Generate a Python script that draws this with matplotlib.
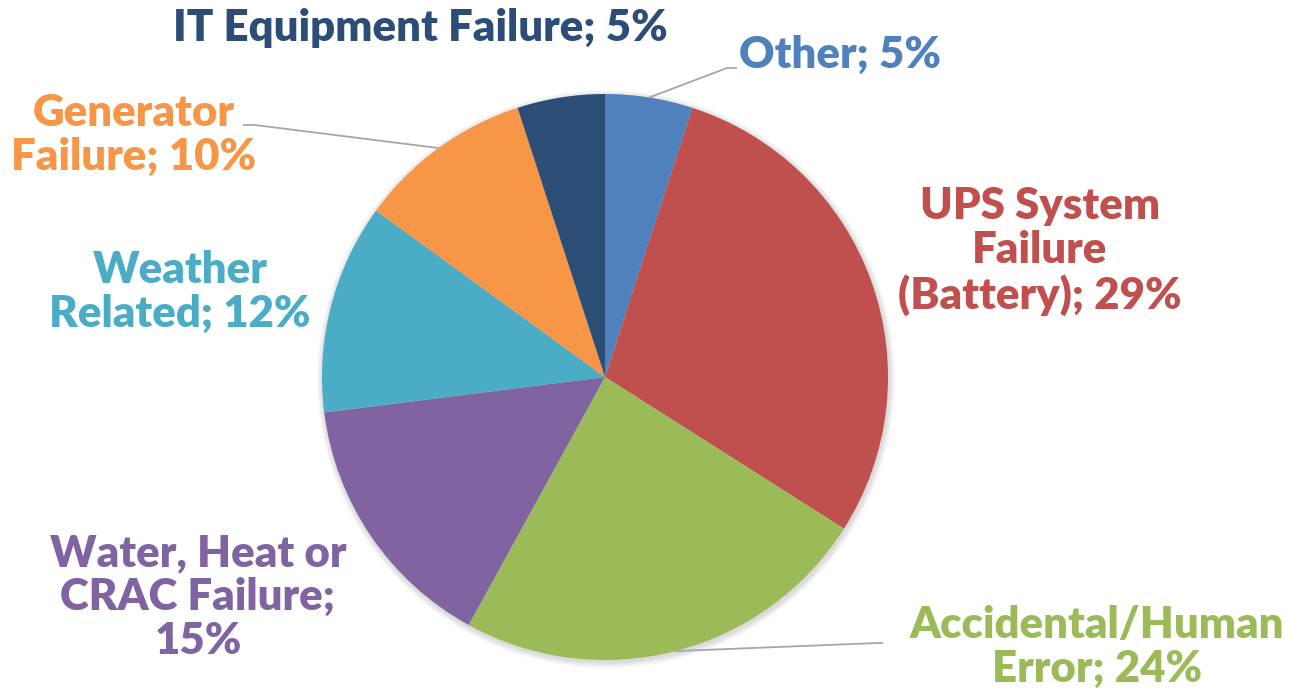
import numpy as np
import matplotlib.pyplot as plt
from matplotlib.patches import Circle

# Данные
labels = ['Other', 'UPS System\nFailure\n(Battery)', 'Accidental/Human\nError',
          'Water, Heat or\nCRAC Failure;\n', 'Weather\nRelated', 'Generator\nFailure',
          'IT Equipment Failure']
values = [5, 29, 24, 15, 12, 10, 5]
colors = ['#4F81BD', '#C0504D', '#9BBB59', '#8064A2', '#4BACC6', '#F79646', '#2C4D75']

W, H = 1289, 694
fig = plt.figure(figsize=(W / 100, H / 100), dpi=100)
ax = fig.add_axes([0, 0, 1, 1])

cx, cy, r = 605, H - 377, 283

# лёгкая тень под диаграммой
for k in range(6):
    ax.add_patch(Circle((cx + 1, cy - 2), r + 1 + k, color='black',
                        alpha=0.025, lw=0, zorder=0))

wedges, _ = ax.pie(values, colors=colors, startangle=90, counterclock=False,
                   center=(cx, cy), radius=r, frame=True,
                   wedgeprops=dict(linewidth=0, zorder=2))
ax.set_xlim(0, W)
ax.set_ylim(0, H)
ax.set_aspect('equal')
ax.axis('off')

# позиции подписей (в пикселях, от верхнего края)
label_pos = [(840, 55), (1040, 251), (1097, 647), (198, 597), (180, 292), (134, 135), (420, 28)]
# точки излома выносок: (x_изгиба, y), (x_конца, y)
leaders = {0: [(727, 68), (737, 68)], 2: [(878, 643), (883, 643)], 5: [(255, 125), (243, 125)]}

font = dict(family='Lato', fontweight='heavy', fontsize=31.5)
for i, (lab, v) in enumerate(zip(labels, values)):
    if lab.endswith('\n'):
        txt = lab + f'{v}%'
    else:
        txt = lab + f'; {v}%'
    x, y = label_pos[i]
    ax.text(x, H - y, txt, ha='center', va='center', multialignment='center',
            color=colors[i], linespacing=1.12, **font)
    if i in leaders:
        w = wedges[i]
        mid = np.deg2rad((w.theta1 + w.theta2) / 2)
        px, py = cx + r * np.cos(mid), cy + r * np.sin(mid)
        (bx, by), (ex, ey) = leaders[i]
        ax.plot([px, bx, ex], [py, H - by, H - ey], color='#A6A6A6', lw=1.3,
                solid_capstyle='butt', zorder=1)

fig.savefig('out.png', dpi=100)
